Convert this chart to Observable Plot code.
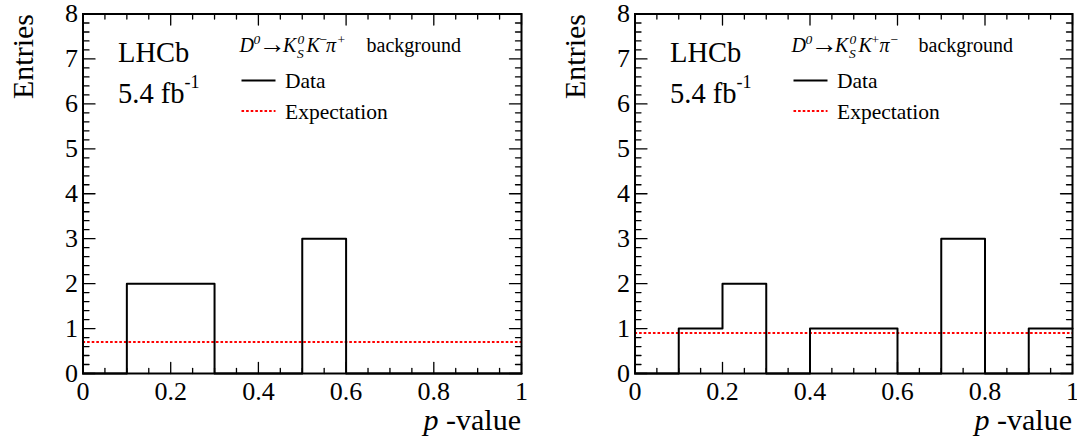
<!DOCTYPE html>
<html><head><meta charset="utf-8">
<script src="https://cdn.jsdelivr.net/npm/d3@7"></script>
<script src="https://cdn.jsdelivr.net/npm/@observablehq/plot@0.6"></script>
<style>
body{margin:0;background:#fff;}
#wrap{display:flex;width:1077px;height:436px;overflow:hidden;}
#wrap svg{overflow:visible;display:block;}
#wrap svg text{font-family:'Liberation Serif','Tinos','Times New Roman','DejaVu Serif',serif !important;}
</style></head><body><div id="wrap"></div>
<script>
// ---- data ----
const binEdges = [0, 0.1, 0.2, 0.3, 0.4, 0.5, 0.6, 0.7, 0.8, 0.9, 1.0];
const countsKmPip = [0, 2, 2, 0, 0, 3, 0, 0, 0, 0];   // D0 -> KS K- pi+ background
const countsKpPim = [0, 1, 2, 0, 1, 1, 0, 3, 0, 1];   // D0 -> KS K+ pi- background
const expectations = [0.7, 0.9];
const xMajorTicks = [0, 0.2, 0.4, 0.6, 0.8, 1];
const xTickLabels = ["0", "0.2", "0.4", "0.6", "0.8", "1"];
const xMinorTicks = [0.05, 0.1, 0.15, 0.25, 0.3, 0.35, 0.45, 0.5, 0.55, 0.65, 0.7, 0.75, 0.85, 0.9, 0.95];
const yMajorTicks = [0, 1, 2, 3, 4, 5, 6, 7, 8];
const yTickLabels = ["0", "1", "2", "3", "4", "5", "6", "7", "8"];
const yMinorSteps = [0.2, 0.4, 0.6, 0.8];
const yTitle = "Entries";
const xTitleItalic = "p";
const xTitleRest = " -value";
const experiment = "LHCb";
const lumiText = "5.4 fb";
const lumiSup = "-1";
const legendData = "Data";
const legendExp = "Expectation";
// formula pieces: [text, italic, role, x offset from legend start]
const formulaMinus = [["D",1,"n",0],["0",1,"sup",14],["\u2192",0,"arrow",19],["K",1,"n",43.5],["0",1,"sup",58],["S",1,"sub",57.5],["K",1,"n",67],["\u2212",0,"sup",80],["\u03C0",1,"n",86.5],["+",0,"sup",98],["background",0,"n",127]];
const formulaPlus  = [["D",1,"n",0],["0",1,"sup",14],["\u2192",0,"arrow",19],["K",1,"n",43.5],["0",1,"sup",58],["S",1,"sub",57.5],["K",1,"n",67],["+",0,"sup",80],["\u03C0",1,"n",88],["\u2212",0,"sup",99],["background",0,"n",127]];

const yMinorTicks = yMajorTicks.slice(0, -1).flatMap(m => yMinorSteps.map(s => +(m + s).toFixed(2)));

const FONT = "'Liberation Serif', 'Tinos', 'Times New Roman', 'DejaVu Serif', serif";
const tickShape = {draw(ctx, l) { ctx.moveTo(0, 0); ctx.lineTo(0, -l); }};

function tickMarks() {
  const common = {anchor: "start", shape: tickShape, stroke: "black", strokeWidth: 1.3};
  return [
    Plot.vector(xMajorTicks, {...common, x: d => d, y: () => 0, length: 11, rotate: 0}),
    Plot.vector(xMinorTicks, {...common, x: d => d, y: () => 0, length: 5, rotate: 0}),
    Plot.vector(xMajorTicks, {...common, x: d => d, y: () => 8, length: 11, rotate: 180}),
    Plot.vector(xMinorTicks, {...common, x: d => d, y: () => 8, length: 5, rotate: 180}),
    Plot.vector(yMajorTicks, {...common, x: () => 0, y: d => d, length: 12, rotate: 90}),
    Plot.vector(yMinorTicks, {...common, x: () => 0, y: d => d, length: 6, rotate: 90}),
    Plot.vector(yMajorTicks, {...common, x: () => 1, y: d => d, length: 12, rotate: -90}),
    Plot.vector(yMinorTicks, {...common, x: () => 1, y: d => d, length: 6, rotate: -90})
  ];
}

function panel(counts, expectation, formula, width, marginRight) {
  const pts = binEdges.map((e, i) => ({x: e, y: counts[Math.min(i, counts.length - 1)]}));
  const xl = xMajorTicks.map((v, i) => ({v, t: xTickLabels[i]}));
  const yl = yMajorTicks.map((v, i) => ({v, t: yTickLabels[i]}));
  const plot = Plot.plot({
    width, height: 436,
    marginLeft: 82.5, marginRight, marginTop: 13.5, marginBottom: 63,
    style: {fontFamily: FONT, background: "white", overflow: "visible"},
    x: {domain: [0, 1], axis: null},
    y: {domain: [0, 8], axis: null},
    marks: [
      Plot.ruleY([expectation], {stroke: "#ff0000", strokeWidth: 2, strokeDasharray: "2.6,2"}),
      Plot.line(pts, {x: "x", y: "y", curve: "step-after", stroke: "black", strokeWidth: 2}),
      Plot.frame({stroke: "black", strokeWidth: 2}),
      ...tickMarks(),
      Plot.text(xl, {x: "v", y: () => 0, text: "t", dy: 18, fontSize: 26, fill: "black", lineAnchor: "middle"}),
      Plot.text(yl, {x: () => 0, y: "v", text: "t", dx: -5, textAnchor: "end", fontSize: 26, fill: "black", lineAnchor: "middle"})
    ]
  });
  const svg = d3.select(plot);
  const sx = plot.scale("x");
  const L = sx.apply(0), R = sx.apply(1);
  const g = svg.append("g").attr("font-family", FONT).attr("fill", "black").attr("text-anchor", "start");
  // y title
  g.append("text").attr("transform", `translate(33,14) rotate(-90)`).attr("text-anchor", "end")
    .attr("font-size", 30).text(yTitle);
  // x title
  const xt = g.append("text").attr("x", R).attr("y", 430).attr("text-anchor", "end").attr("font-size", 30);
  xt.append("tspan").attr("font-style", "italic").text(xTitleItalic);
  xt.append("tspan").text(xTitleRest);
  // LHCb
  g.append("text").attr("x", L + 35.5).attr("y", 61.5).attr("font-size", 28.5).text(experiment);
  const lt = g.append("text").attr("x", L + 35.5).attr("y", 103).attr("font-size", 28.5);
  lt.append("tspan").text(lumiText);
  lt.append("tspan").attr("y", 88).attr("font-size", 18).text(lumiSup);
  // legend title (formula)
  const base = 52, x0 = L + 157;
  const ft = g.append("text").attr("x", x0).attr("y", base).attr("font-size", 20);
  for (const [t, it, role, off] of formula) {
    const ts = ft.append("tspan").text(t).attr("x", x0 + off);
    if (it) ts.attr("font-style", "italic");
    if (role === "n") ts.attr("y", base);
    else if (role === "arrow") ts.attr("y", base + 1).attr("font-size", 27).attr("textLength", 24);
    else if (role === "sup") ts.attr("y", base - 8).attr("font-size", 13.5);
    else if (role === "sub") ts.attr("y", base + 6).attr("font-size", 13.5);
  }
  // legend entries
  g.append("line").attr("x1", L + 159).attr("x2", L + 193).attr("y1", 80.5).attr("y2", 80.5)
    .attr("stroke", "black").attr("stroke-width", 2);
  g.append("text").attr("x", L + 202.5).attr("y", 88).attr("font-size", 21.5).text(legendData);
  g.append("line").attr("x1", L + 159).attr("x2", L + 193).attr("y1", 111).attr("y2", 111)
    .attr("stroke", "#ff0000").attr("stroke-width", 2).attr("stroke-dasharray", "2.6,2");
  g.append("text").attr("x", L + 202.5).attr("y", 119).attr("font-size", 21.5).text(legendExp);
  return plot;
}

const wrap = document.getElementById("wrap");
wrap.append(panel(countsKmPip, expectations[0], formulaMinus, 552, 31));
wrap.append(panel(countsKpPim, expectations[1], formulaPlus, 525, 5));
</script>
</body></html>
